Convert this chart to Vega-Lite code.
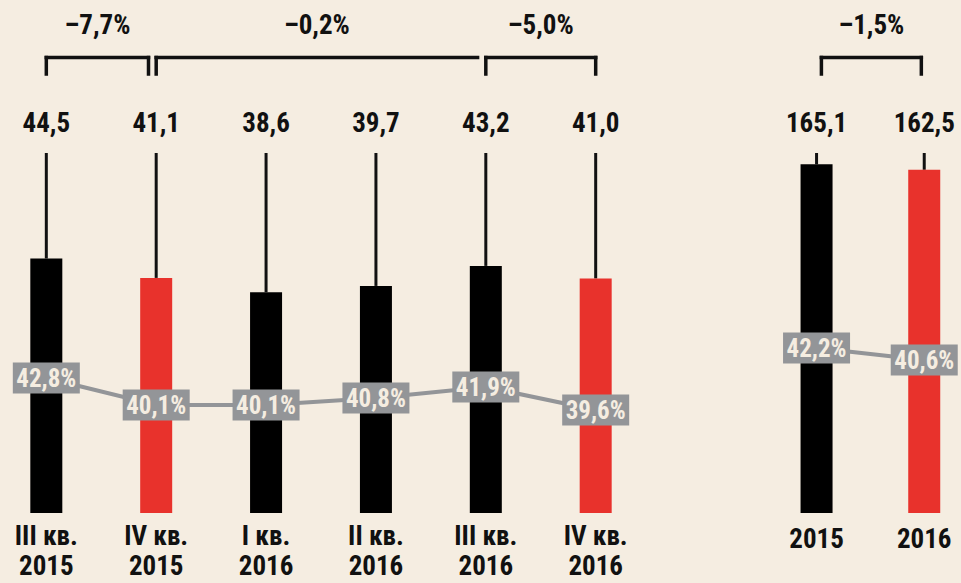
{
  "$schema": "https://vega.github.io/schema/vega-lite/v6.json",
  "background": "#f5ede1",
  "padding": 0,
  "autosize": {"type": "pad"},
  "spacing": 58,
  "bounds": "flush",
  "datasets": {
    "quarters": [
      {"i": 0, "period": "III кв.\n2015", "value": 44.5, "share": 0.428, "focus": "no"},
      {"i": 1, "period": "IV кв.\n2015", "value": 41.1, "share": 0.401, "focus": "yes"},
      {"i": 2, "period": "I кв.\n2016", "value": 38.6, "share": 0.401, "focus": "no"},
      {"i": 3, "period": "II кв.\n2016", "value": 39.7, "share": 0.408, "focus": "no"},
      {"i": 4, "period": "III кв.\n2016", "value": 43.2, "share": 0.419, "focus": "no"},
      {"i": 5, "period": "IV кв.\n2016", "value": 41.0, "share": 0.396, "focus": "yes"}
    ],
    "years": [
      {"i": 0, "period": "2015", "value": 165.1, "share": 0.422, "focus": "no"},
      {"i": 1, "period": "2016", "value": 162.5, "share": 0.406, "focus": "yes"}
    ],
    "brackets_q": [
      {"start": 0, "end": 0.93, "change": -0.077, "rightLeg": true},
      {"start": 1, "end": 3.925, "change": -0.002, "rightLeg": false},
      {"start": 4, "end": 5, "change": -0.05, "rightLeg": true}
    ],
    "brackets_y": [
      {"start": 0.045, "end": 0.973, "change": -0.015, "rightLeg": true}
    ]
  },
  "hconcat": [
    {
      "width": 642,
      "height": 583,
      "data": {"name": "quarters"},
      "layer": [
        {
          "layer": [
            {
              "mark": {"type": "rule", "strokeWidth": 3, "color": "#111111"},
              "encoding": {
                "x": {"field": "i", "type": "quantitative", "scale": {"domain": [-0.376, 5.376], "nice": false, "zero": false}, "axis": null},
                "y": {"field": "value", "type": "quantitative", "scale": {"domain": [-12.24, 89.69], "nice": false, "zero": false}, "axis": null},
                "y2": {"datum": 62.94}
              }
            },
            {
              "mark": {"type": "bar", "width": 32},
              "encoding": {
                "x": {"field": "i", "type": "quantitative"},
                "y": {"field": "value", "type": "quantitative"},
                "y2": {"datum": 0},
                "color": {"field": "focus", "type": "nominal", "scale": {"domain": ["no", "yes"], "range": ["#000000", "#e8322c"]}, "legend": null}
              }
            },
            {
              "mark": {"type": "text", "font": "Liberation Sans Narrow, Roboto Condensed, Liberation Sans", "fontSize": 27, "fontWeight": "bold", "baseline": "alphabetic", "color": "#111111"},
              "encoding": {
                "x": {"field": "i", "type": "quantitative"},
                "y": {"datum": 66.6},
                "text": {"field": "value", "type": "quantitative", "format": ".1f"}
              }
            },
            {
              "mark": {"type": "text", "font": "Liberation Sans Narrow, Roboto Condensed, Liberation Sans", "fontSize": 27, "fontWeight": "bold", "baseline": "alphabetic", "color": "#111111", "lineBreak": "\n", "lineHeight": 30},
              "encoding": {
                "x": {"field": "i", "type": "quantitative"},
                "y": {"datum": -5.59},
                "text": {"field": "period", "type": "nominal"}
              }
            },
            {
              "data": {"name": "brackets_q"},
              "mark": {"type": "rule", "strokeWidth": 3.5, "color": "#111111", "strokeCap": "square"},
              "encoding": {
                "x": {"field": "start", "type": "quantitative"},
                "x2": {"field": "end"},
                "y": {"datum": 79.63}
              }
            },
            {
              "data": {"name": "brackets_q"},
              "transform": [
                {"fold": ["start", "end"], "as": ["side", "pos"]},
                {"filter": "datum.side == 'start' || datum.rightLeg"}
              ],
              "mark": {"type": "rule", "strokeWidth": 3.5, "color": "#111111", "strokeCap": "square"},
              "encoding": {
                "x": {"field": "pos", "type": "quantitative"},
                "y": {"datum": 79.63},
                "y2": {"datum": 76.75}
              }
            },
            {
              "data": {"name": "brackets_q"},
              "transform": [
                {"fold": ["start", "end"], "as": ["side", "pos"]},
                {"aggregate": [{"op": "mean", "field": "pos", "as": "mid"}], "groupby": ["change"]}
              ],
              "mark": {"type": "text", "font": "Liberation Sans Narrow, Roboto Condensed, Liberation Sans", "fontSize": 27, "fontWeight": "bold", "baseline": "alphabetic", "color": "#111111"},
              "encoding": {
                "x": {"field": "mid", "type": "quantitative"},
                "y": {"datum": 83.74},
                "text": {"field": "change", "type": "quantitative", "format": ".1%"}
              }
            }
          ]
        },
        {
          "layer": [
            {
              "mark": {"type": "line", "color": "#939598", "strokeWidth": 4},
              "encoding": {
                "x": {"field": "i", "type": "quantitative"},
                "y": {"field": "share", "type": "quantitative", "scale": {"domain": [0.223, 0.806], "nice": false, "zero": false}, "axis": null}
              }
            },
            {
              "mark": {"type": "tick", "orient": "horizontal", "size": 67, "thickness": 31, "color": "#939598", "opacity": 1},
              "encoding": {
                "x": {"field": "i", "type": "quantitative"},
                "y": {"field": "share", "type": "quantitative"}
              }
            },
            {
              "mark": {"type": "text", "font": "Liberation Sans Narrow, Roboto Condensed, Liberation Sans", "fontSize": 25, "fontWeight": "bold", "baseline": "middle", "color": "#f5ede1", "dy": 1},
              "encoding": {
                "x": {"field": "i", "type": "quantitative"},
                "y": {"field": "share", "type": "quantitative"},
                "text": {"field": "share", "type": "quantitative", "format": ".1%"}
              }
            }
          ]
        }
      ],
      "resolve": {"scale": {"y": "independent"}}
    },
    {
      "width": 261,
      "height": 583,
      "data": {"name": "years"},
      "layer": [
        {
          "layer": [
            {
              "mark": {"type": "rule", "strokeWidth": 3, "color": "#111111"},
              "encoding": {
                "x": {"field": "i", "type": "quantitative", "scale": {"domain": [-1.036, 1.295], "nice": false, "zero": false}, "axis": null},
                "y": {"field": "value", "type": "quantitative", "scale": {"domain": [-33.14, 242.9], "nice": false, "zero": false}, "axis": null},
                "y2": {"datum": 170.45}
              }
            },
            {
              "mark": {"type": "bar", "width": 32},
              "encoding": {
                "x": {"field": "i", "type": "quantitative"},
                "y": {"field": "value", "type": "quantitative"},
                "y2": {"datum": 0},
                "color": {"field": "focus", "type": "nominal", "scale": {"domain": ["no", "yes"], "range": ["#000000", "#e8322c"]}, "legend": null}
              }
            },
            {
              "mark": {"type": "text", "font": "Liberation Sans Narrow, Roboto Condensed, Liberation Sans", "fontSize": 27, "fontWeight": "bold", "baseline": "alphabetic", "color": "#111111"},
              "encoding": {
                "x": {"field": "i", "type": "quantitative"},
                "y": {"datum": 180.4},
                "text": {"field": "value", "type": "quantitative", "format": ".1f"}
              }
            },
            {
              "mark": {"type": "text", "font": "Liberation Sans Narrow, Roboto Condensed, Liberation Sans", "fontSize": 27, "fontWeight": "bold", "baseline": "alphabetic", "color": "#111111"},
              "encoding": {
                "x": {"field": "i", "type": "quantitative"},
                "y": {"datum": -16.57},
                "text": {"field": "period", "type": "nominal"}
              }
            },
            {
              "data": {"name": "brackets_y"},
              "mark": {"type": "rule", "strokeWidth": 3.5, "color": "#111111", "strokeCap": "square"},
              "encoding": {
                "x": {"field": "start", "type": "quantitative"},
                "x2": {"field": "end"},
                "y": {"datum": 215.67}
              }
            },
            {
              "data": {"name": "brackets_y"},
              "transform": [
                {"fold": ["start", "end"], "as": ["side", "pos"]},
                {"filter": "datum.side == 'start' || datum.rightLeg"}
              ],
              "mark": {"type": "rule", "strokeWidth": 3.5, "color": "#111111", "strokeCap": "square"},
              "encoding": {
                "x": {"field": "pos", "type": "quantitative"},
                "y": {"datum": 215.67},
                "y2": {"datum": 207.86}
              }
            },
            {
              "data": {"name": "brackets_y"},
              "transform": [
                {"fold": ["start", "end"], "as": ["side", "pos"]},
                {"aggregate": [{"op": "mean", "field": "pos", "as": "mid"}], "groupby": ["change"]}
              ],
              "mark": {"type": "text", "font": "Liberation Sans Narrow, Roboto Condensed, Liberation Sans", "fontSize": 27, "fontWeight": "bold", "baseline": "alphabetic", "color": "#111111"},
              "encoding": {
                "x": {"field": "mid", "type": "quantitative"},
                "y": {"datum": 226.8},
                "text": {"field": "change", "type": "quantitative", "format": ".1%"}
              }
            }
          ]
        },
        {
          "layer": [
            {
              "mark": {"type": "line", "color": "#939598", "strokeWidth": 4},
              "encoding": {
                "x": {"field": "i", "type": "quantitative"},
                "y": {"field": "share", "type": "quantitative", "scale": {"domain": [0.1087, 0.886], "nice": false, "zero": false}, "axis": null}
              }
            },
            {
              "mark": {"type": "tick", "orient": "horizontal", "size": 67, "thickness": 31, "color": "#939598", "opacity": 1},
              "encoding": {
                "x": {"field": "i", "type": "quantitative"},
                "y": {"field": "share", "type": "quantitative"}
              }
            },
            {
              "mark": {"type": "text", "font": "Liberation Sans Narrow, Roboto Condensed, Liberation Sans", "fontSize": 25, "fontWeight": "bold", "baseline": "middle", "color": "#f5ede1", "dy": 1},
              "encoding": {
                "x": {"field": "i", "type": "quantitative"},
                "y": {"field": "share", "type": "quantitative"},
                "text": {"field": "share", "type": "quantitative", "format": ".1%"}
              }
            }
          ]
        }
      ],
      "resolve": {"scale": {"y": "independent"}}
    }
  ],
  "config": {
    "view": {"stroke": null},
    "locale": {"number": {"decimal": ",", "thousands": "\u00a0", "grouping": [3], "currency": ["", ""], "minus": "\u2013"}}
  }
}
